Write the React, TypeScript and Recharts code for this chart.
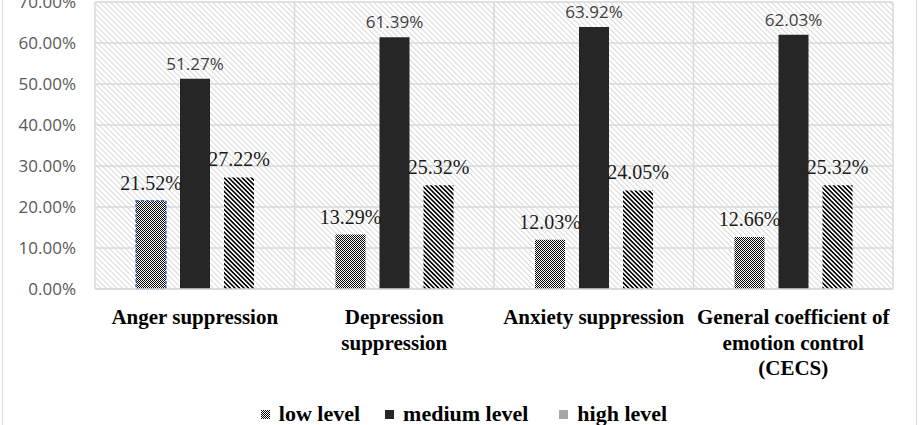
import React from 'react';
import { BarChart, Bar, XAxis, YAxis, CartesianGrid, LabelList, Legend, Cell } from 'recharts';

const categories = [
  'Anger suppression',
  'Depression suppression',
  'Anxiety suppression',
  'General coefficient of emotion control (CECS)',
];
const categoryLines: string[][] = [
  ['Anger suppression'],
  ['Depression', 'suppression'],
  ['Anxiety suppression'],
  ['General coefficient of', 'emotion control', '(CECS)'],
];
const lowLevel = [0.2152, 0.1329, 0.1203, 0.1266];
const mediumLevel = [0.5127, 0.6139, 0.6392, 0.6203];
const highLevel = [0.2722, 0.2532, 0.2405, 0.2532];
const yTicks = [0, 0.1, 0.2, 0.3, 0.4, 0.5, 0.6, 0.7];
const seriesNames = ['low level', 'medium level', 'high level'];

const data = categories.map((c, i) => ({
  category: c,
  low: lowLevel[i],
  medium: mediumLevel[i],
  high: highLevel[i],
}));

const pct = (v: any) => (Number(v) * 100).toFixed(2) + '%';

const SERIF = "'Liberation Serif', 'Times New Roman', serif";
const SANS = "'Open Sans', 'Noto Sans', sans-serif";

const CategoryTick = (props: any) => {
  const { x, y, index, payload } = props;
  const lines = categoryLines[index] ?? [String(payload?.value ?? '')];
  return (
    <text x={x} y={y} textAnchor="middle" fontFamily={SERIF} fontWeight="bold" fontSize={21} fill="#000">
      {lines.map((l, i) => (
        <tspan key={i} x={x} dy={i === 0 ? 27 : 25.5}>
          {l}
        </tspan>
      ))}
    </text>
  );
};

const ValueTick = (props: any) => {
  const { x, y, payload } = props;
  return (
    <text x={x} y={y} dy="0.36em" textAnchor="end" fontFamily={SANS} fontSize={17} fill="#595959">
      {pct(payload.value)}
    </text>
  );
};

const Swatch = ({ kind }: { kind: number }) => (
  <svg width={9} height={9} style={{ display: 'block' }}>
    <defs>
      <pattern id={'legChk' + kind} patternUnits="userSpaceOnUse" width={2} height={2}>
        <rect x={0} y={0} width={2} height={2} fill="#fff" />
        <rect x={0} y={0} width={1} height={1} fill="#000" />
        <rect x={1} y={1} width={1} height={1} fill="#000" />
      </pattern>
    </defs>
    <rect x={0} y={0} width={9} height={9} fill={kind === 0 ? 'url(#legChk0)' : kind === 1 ? '#262626' : '#a6a6a6'} />
  </svg>
);

const LegendContent = () => (
  <div
    style={{
      display: 'flex',
      justifyContent: 'center',
      alignItems: 'center',
      fontFamily: SERIF,
      fontWeight: 'bold',
      fontSize: 22,
      lineHeight: '22px',
      color: '#000',
      paddingLeft: 8,
    }}
  >
    {seriesNames.map((n, i) => (
      <div key={n} style={{ display: 'flex', alignItems: 'center', marginRight: i === 0 ? 25 : i === 1 ? 31 : 0 }}>
        <Swatch kind={i} />
        <span style={{ marginLeft: 9 }}>{n}</span>
      </div>
    ))}
  </div>
);

export default function App() {
  return (
    <div style={{ position: 'absolute', left: 0, top: 0, width: 920, height: 425, background: '#fff', overflow: 'hidden' }}>
      <div
        style={{
          position: 'absolute',
          left: 2,
          top: -4,
          width: 915,
          height: 440,
          boxSizing: 'border-box',
          border: '1.5px solid #d9d9d9',
        }}
      />
      <BarChart
        width={920}
        height={425}
        data={data}
        margin={{ top: 2, right: 27, left: 0, bottom: 0 }}
        barSize={30}
        barGap={14}
      >
        <defs>
          <pattern id="bgHatch" patternUnits="userSpaceOnUse" width={3.8} height={3.8} patternTransform="rotate(-45)">
            <rect x={0} y={0} width={3.8} height={3.8} fill="#fff" />
            <rect x={0} y={0} width={0.9} height={3.8} fill="#d6d6d6" />
          </pattern>
          <pattern id="lowChk" patternUnits="userSpaceOnUse" width={2} height={2}>
            <rect x={0} y={0} width={2} height={2} fill="#fff" />
            <rect x={0} y={0} width={1} height={1} fill="#000" />
            <rect x={1} y={1} width={1} height={1} fill="#000" />
          </pattern>
          <pattern id="highStripe" patternUnits="userSpaceOnUse" width={3.2} height={3.2} patternTransform="rotate(-45)">
            <rect x={0} y={0} width={3.2} height={3.2} fill="#fff" />
            <rect x={0} y={0} width={1.6} height={3.2} fill="#000" />
          </pattern>
        </defs>
        <CartesianGrid
          stroke="#d9d9d9"
          strokeWidth={1.5}
          fill="url(#bgHatch)"
          fillOpacity={1}
          verticalCoordinatesGenerator={(p: any) => {
            const { offset } = p;
            const n = categories.length;
            return Array.from({ length: n + 1 }, (_, i) => offset.left + (i * offset.width) / n);
          }}
        />
        <XAxis
          dataKey="category"
          interval={0}
          height={136}
          tickLine={false}
          tickSize={6}
          tickMargin={2}
          axisLine={{ stroke: '#d9d9d9', strokeWidth: 1.5 }}
          tick={<CategoryTick />}
        />
        <YAxis
          domain={[0, 0.7]}
          ticks={yTicks}
          interval={0}
          width={95}
          axisLine={false}
          tickLine={false}
          tickSize={6}
          tickMargin={13}
          tick={<ValueTick />}
        />
        <Legend
          layout="horizontal"
          verticalAlign="middle"
          align="center"
          wrapperStyle={{ top: 403, left: 0, width: 920 }}
          content={<LegendContent />}
        />
        <Bar dataKey="low" name={seriesNames[0]} fill="url(#lowChk)" isAnimationActive={false}>
          {data.map((_, i) => (
            <Cell
              key={i}
              stroke={i === 0 ? '#4472C4' : 'none'}
              strokeWidth={1.5}
              strokeDasharray={i === 0 ? '3 2' : undefined}
            />
          ))}
          <LabelList dataKey="low" position="top" offset={11} formatter={pct} fill="#1a1a1a" fontSize={20} fontFamily={SERIF} />
        </Bar>
        <Bar dataKey="medium" name={seriesNames[1]} fill="#262626" isAnimationActive={false}>
          <LabelList dataKey="medium" position="top" offset={9} formatter={pct} fill="#404040" fontSize={17} fontFamily={SANS} />
        </Bar>
        <Bar dataKey="high" name={seriesNames[2]} fill="url(#highStripe)" isAnimationActive={false}>
          <LabelList dataKey="high" position="top" offset={11} formatter={pct} fill="#1a1a1a" fontSize={20} fontFamily={SERIF} />
        </Bar>
      </BarChart>
    </div>
  );
}
